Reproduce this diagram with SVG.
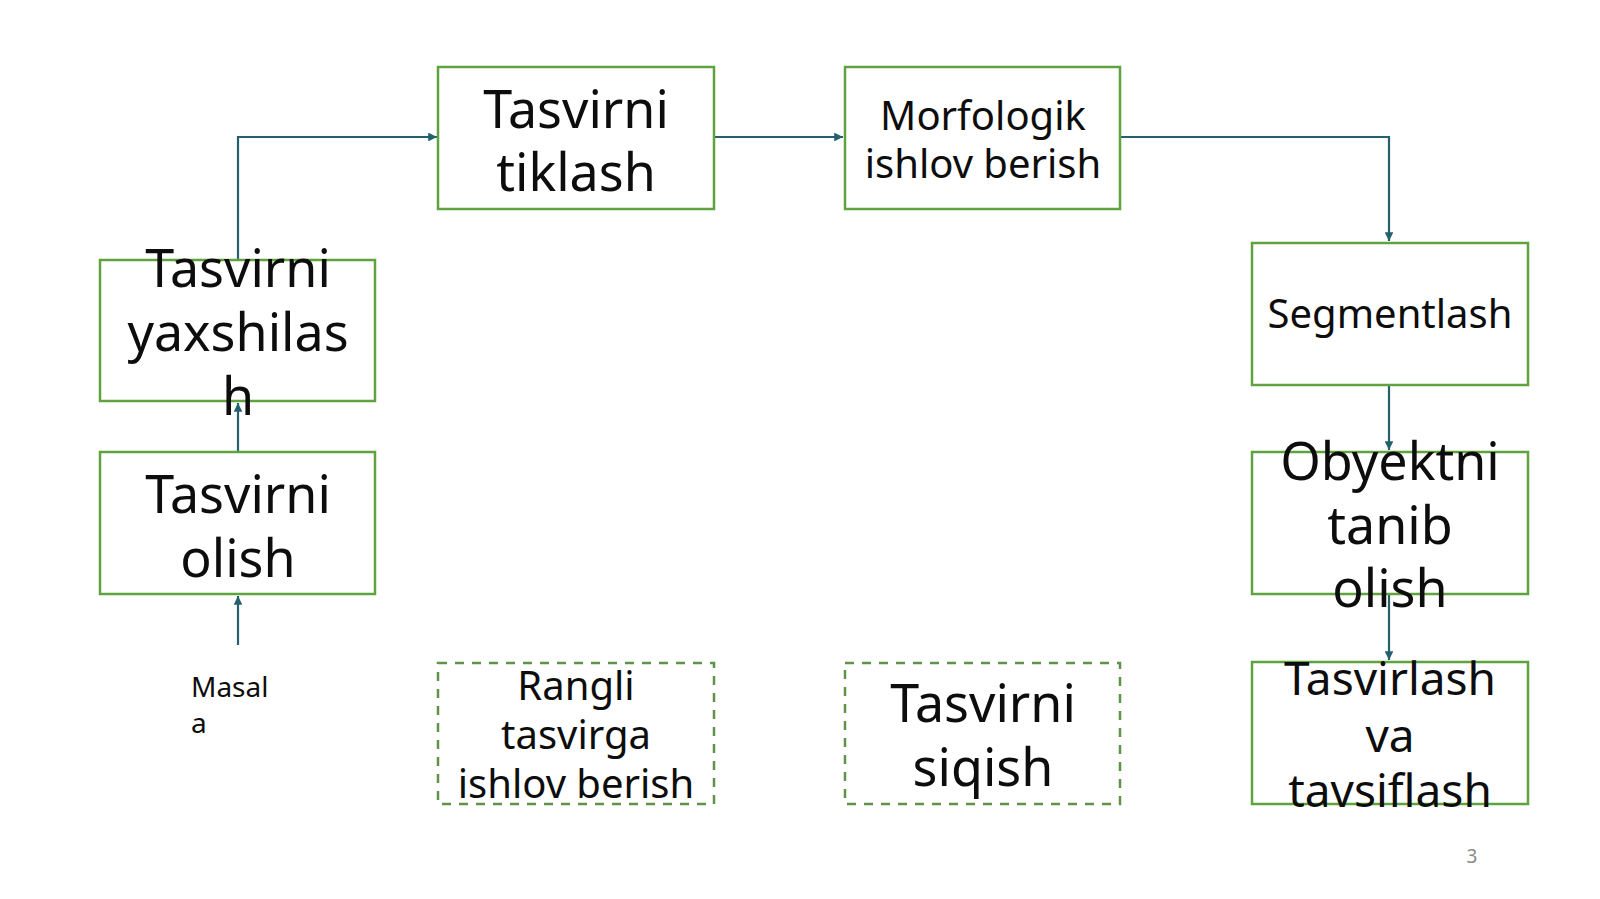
<svg xmlns="http://www.w3.org/2000/svg" width="1600" height="899" viewBox="0 0 1600 899">
<style>
.box{fill:#ffffff;stroke:#5fa33e;stroke-width:2.5}
.dbox{fill:#ffffff;stroke:#5f9448;stroke-width:2.5;stroke-dasharray:9 8}
.t{font-family:"Noto Sans","Open Sans",sans-serif;fill:#0d0d0d;text-anchor:middle}
.big{font-size:52px}
.mid{font-size:46px}
.sm{font-size:40px}
.conn{fill:none;stroke:#24606e;stroke-width:2.2}
</style>
<defs>
<marker id="arr" viewBox="0 0 10 10" refX="10" refY="5" markerWidth="4" markerHeight="4" markerUnits="strokeWidth" orient="auto">
<path d="M0,0 L10,5 L0,10 z" fill="#24606e"/>
</marker>
</defs>
<rect x="0" y="0" width="1600" height="899" fill="#ffffff"/>
<g id="connectors">
<path class="conn" d="M238,260 V137 H437" marker-end="url(#arr)"/>
<path class="conn" d="M714,137 H843" marker-end="url(#arr)"/>
<path class="conn" d="M1120,137 H1389 V241" marker-end="url(#arr)"/>
<path class="conn" d="M1389,385 V450" marker-end="url(#arr)"/>
<path class="conn" d="M1389,594 V660" marker-end="url(#arr)"/>
<path class="conn" d="M238,452 V403" marker-end="url(#arr)"/>
<path class="conn" d="M238,645 V596" marker-end="url(#arr)"/>
</g>
<g id="tiklash">
<rect class="box" x="438" y="67" width="276" height="142"/>
<text class="t big" x="576" y="128">Tasvirni</text>
<text class="t big" x="576" y="191">tiklash</text>
</g>
<g id="morfologik">
<rect class="box" x="845" y="67" width="275" height="142"/>
<text class="t sm" x="983" y="130">Morfologik</text>
<text class="t sm" x="983" y="178">ishlov berish</text>
</g>
<g id="segmentlash">
<rect class="box" x="1252" y="243" width="276" height="142"/>
<text class="t sm" x="1390" y="328">Segmentlash</text>
</g>
<g id="yaxshilash">
<rect class="box" x="100" y="260" width="275" height="141"/>
<text class="t big" x="238" y="287">Tasvirni</text>
<text class="t big" x="238" y="351">yaxshilas</text>
<text class="t big" x="238" y="415">h</text>
</g>
<g id="olish">
<rect class="box" x="100" y="452" width="275" height="142"/>
<text class="t big" x="238" y="513">Tasvirni</text>
<text class="t big" x="238" y="577">olish</text>
</g>
<g id="obyektni">
<rect class="box" x="1252" y="452" width="276" height="142"/>
<text class="t big" x="1390" y="480">Obyektni</text>
<text class="t big" x="1390" y="544">tanib</text>
<text class="t big" x="1390" y="607">olish</text>
</g>
<g id="masala">
<text font-family="Noto Sans, Open Sans, sans-serif" font-size="28" fill="#0d0d0d" x="191" y="697">Masal</text>
<text font-family="Noto Sans, Open Sans, sans-serif" font-size="28" fill="#0d0d0d" x="191" y="733">a</text>
</g>
<g id="rangli">
<rect class="dbox" x="438" y="663" width="276" height="141"/>
<text class="t sm" x="576" y="700">Rangli</text>
<text class="t sm" x="576" y="749">tasvirga</text>
<text class="t sm" x="576" y="798">ishlov berish</text>
</g>
<g id="siqish">
<rect class="dbox" x="845" y="663" width="275" height="141"/>
<text class="t big" x="983" y="722">Tasvirni</text>
<text class="t big" x="983" y="786">siqish</text>
</g>
<g id="tasvirlash">
<rect class="box" x="1252" y="662" width="276" height="142"/>
<text class="t mid" x="1390" y="695">Tasvirlash</text>
<text class="t mid" x="1390" y="752">va</text>
<text class="t mid" x="1390" y="807">tavsiflash</text>
</g>
<g id="page">
<text font-family="Noto Sans, Open Sans, sans-serif" font-size="19" fill="#8a8a8a" text-anchor="middle" x="1472" y="863">3</text>
</g>
</svg>
